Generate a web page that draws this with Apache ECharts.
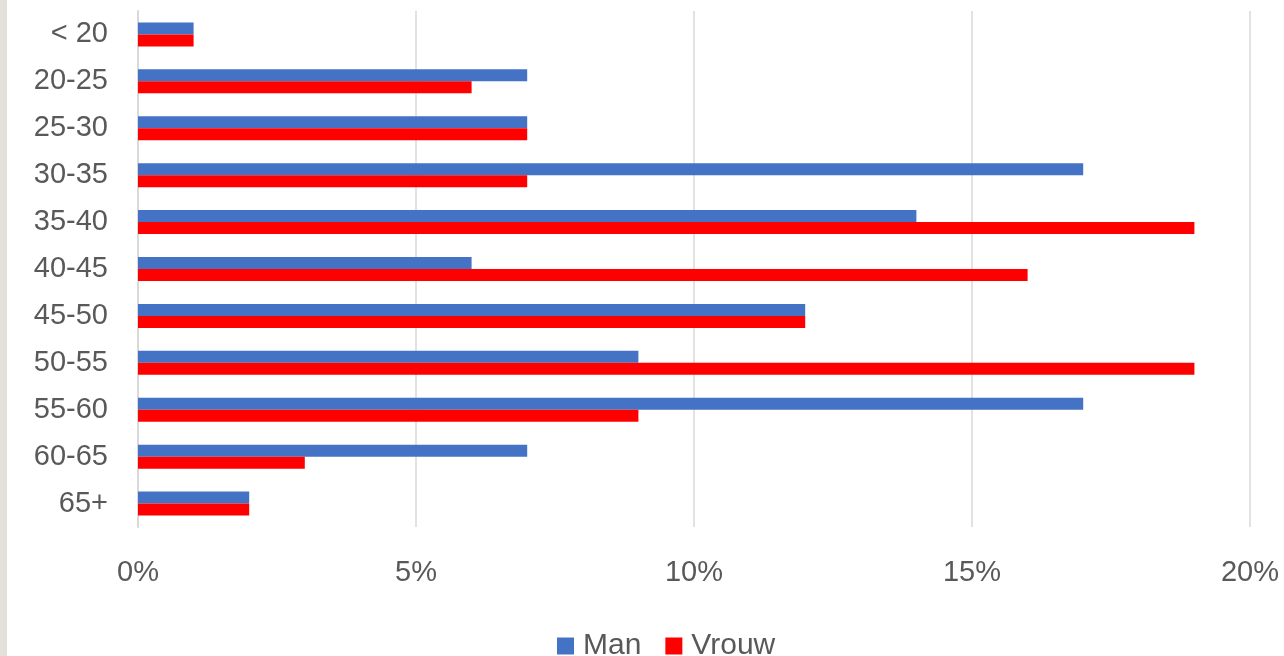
<!DOCTYPE html>
<html>
<head>
<meta charset="utf-8">
<script src="https://cdn.jsdelivr.net/npm/echarts@6/dist/echarts.min.js"></script>
<style>
html,body{margin:0;padding:0;background:#fff;}
#c{width:1284px;height:656px;}
</style>
</head>
<body>
<div id="c"></div>
<script>
var categories = ['< 20','20-25','25-30','30-35','35-40','40-45','45-50','50-55','55-60','60-65','65+'];
var manValues = [1, 7, 7, 17, 14, 6, 12, 9, 17, 7, 2];
var vrouwValues = [1, 6, 7, 7, 19, 16, 12, 19, 9, 3, 2];
var xTicks = [0, 5, 10, 15, 20];

var chart = echarts.init(document.getElementById('c'));
var font = 'Liberation Sans, Arial, sans-serif';
chart.setOption({
  animation: false,
  backgroundColor: '#ffffff',
  graphic: [{
    type: 'rect', left: 0, top: 0,
    shape: {x: 0, y: 0, width: 7, height: 656},
    style: {fill: '#e2e2da'}
  }],
  grid: {left: 138, right: 34, top: 11, bottom: 129, containLabel: false},
  legend: {
    data: ['Man', 'Vrouw'],
    top: 626,
    left: 552,
    itemWidth: 17,
    itemHeight: 17,
    itemGap: 24,
    icon: 'rect',
    textStyle: {color: '#595959', fontSize: 30, fontFamily: font, padding: [0, 0, 0, 4]}
  },
  xAxis: {
    type: 'value',
    min: xTicks[0],
    max: xTicks[xTicks.length - 1],
    interval: 5,
    axisLine: {show: false},
    axisTick: {show: false},
    splitLine: {lineStyle: {color: '#d9d9d9', width: 1.5}},
    axisLabel: {
      color: '#595959', fontSize: 29, fontFamily: font, margin: 31,
      formatter: function (v) { return v + '%'; }
    }
  },
  yAxis: {
    type: 'category',
    data: categories,
    inverse: true,
    axisLine: {show: true, lineStyle: {color: '#d9d9d9', width: 2}},
    axisTick: {show: false},
    axisLabel: {color: '#595959', fontSize: 29, fontFamily: font, margin: 30}
  },
  series: [
    {name: 'Man', type: 'bar', data: manValues, barWidth: 12, barGap: '0%',
     itemStyle: {color: '#4472c4'}},
    {name: 'Vrouw', type: 'bar', data: vrouwValues, barWidth: 12, barGap: '0%',
     itemStyle: {color: '#ff0000'}}
  ]
});
</script>
</body>
</html>
